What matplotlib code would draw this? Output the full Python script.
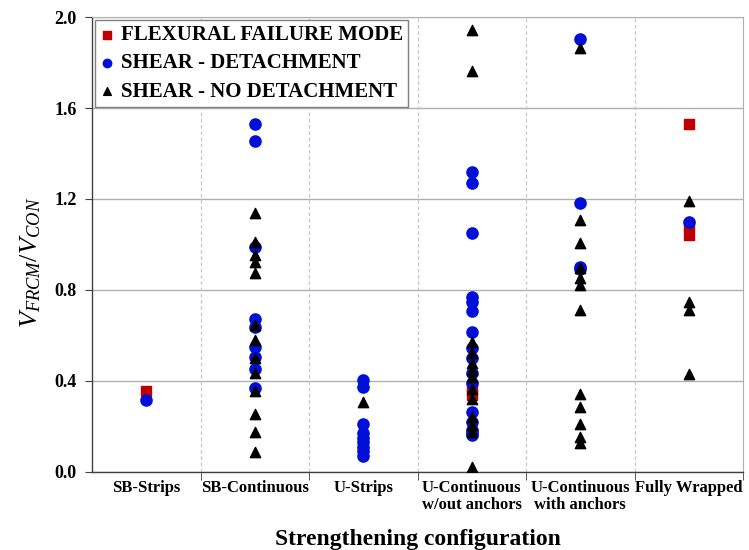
import matplotlib
matplotlib.use("Agg")
import matplotlib.pyplot as plt
import numpy as np

plt.rcParams['font.family'] = ['Liberation Serif', 'DejaVu Serif']
plt.rcParams['mathtext.fontset'] = 'custom'
plt.rcParams['mathtext.it'] = 'Liberation Serif:italic'
plt.rcParams['mathtext.rm'] = 'Liberation Serif'

# Categories
categories = ["SB-Strips", "SB-Continuous", "U-Strips",
              "U-Continuous\nw/out anchors", "U-Continuous\nwith anchors", "Fully Wrapped"]

# Flexural failure mode (category index, value)
flex_cat = [0, 3, 3, 5, 5, 5]
flex_val = [0.357, 0.375, 0.338, 1.530, 1.086, 1.042]

# Shear - detachment
det_cat = [0,
           1, 1, 1, 1, 1, 1, 1, 1, 1,
           2, 2, 2, 2, 2, 2, 2, 2, 2,
           3, 3, 3, 3, 3, 3, 3, 3, 3, 3, 3, 3, 3, 3, 3, 3,
           4, 4, 4, 4,
           5]
det_val = [0.316,
           1.528, 1.456, 0.990, 0.671, 0.636, 0.548, 0.507, 0.451, 0.368,
           0.404, 0.375, 0.211, 0.170, 0.150, 0.130, 0.111, 0.090, 0.068,
           1.317, 1.269, 1.052, 0.768, 0.749, 0.709, 0.614, 0.544, 0.500, 0.434, 0.393,
           0.262, 0.221, 0.185, 0.170, 0.163,
           1.903, 1.181, 0.903, 0.890,
           1.100]

# Shear - no detachment
nodet_cat = [1, 1, 1, 1, 1, 1, 1, 1, 1, 1, 1, 1, 1,
             2,
             3, 3, 3, 3, 3, 3, 3, 3, 3, 3, 3, 3, 3,
             4, 4, 4, 4, 4, 4, 4, 4, 4, 4, 4, 4,
             5, 5, 5, 5]
nodet_val = [1.137, 1.012, 0.954, 0.924, 0.873, 0.646, 0.580, 0.501, 0.435, 0.357, 0.255, 0.177, 0.089,
             0.309,
             1.943, 1.764, 0.573, 0.522, 0.479, 0.448, 0.419, 0.363, 0.319, 0.243, 0.207, 0.177, 0.023,
             1.862, 1.108, 1.008, 0.895, 0.851, 0.822, 0.712, 0.343, 0.287, 0.211, 0.155, 0.129,
             1.191, 0.749, 0.712, 0.431]

fig = plt.figure(figsize=(7.49, 5.5), dpi=100)
ax = fig.add_axes([0.123, 0.142, 0.869, 0.827])

ax.scatter(flex_cat, flex_val, marker='s', s=55, color='#c00000', zorder=3,
           label='FLEXURAL FAILURE MODE')
ax.scatter(det_cat, det_val, marker='o', s=65, color='#0010d8', zorder=4,
           label='SHEAR - DETACHMENT')
ax.scatter(nodet_cat, nodet_val, marker='^', s=55, color='black', zorder=5,
           label='SHEAR - NO DETACHMENT')

ax.set_xlim(-0.5, len(categories) - 0.5)
ax.set_ylim(0, 2.0)
ax.set_yticks(np.arange(0, 2.01, 0.4))
ax.set_yticklabels([f"{v:.1f}" for v in np.arange(0, 2.01, 0.4)],
                   fontsize=13, fontweight='bold')
ax.yaxis.grid(True, color='#b0b0b0', linewidth=1.0)
ax.set_axisbelow(True)

# category separators
bounds = np.arange(0.5, len(categories) - 0.5)
for b in bounds:
    ax.axvline(b, color='#c8c8c8', linestyle=(0, (3, 2)), linewidth=0.9, zorder=1)

ax.set_xticks(range(len(categories)))
ax.set_xticklabels(categories, fontsize=12, fontweight='bold', linespacing=1.1)
ax.tick_params(axis='x', which='major', length=0, pad=6)
ax.set_xticks(np.concatenate([bounds, [5.5]]), minor=True)
ax.tick_params(axis='x', which='minor', length=6, direction='out', color='#404040')
ax.tick_params(axis='y', length=5, direction='out', color='#404040', pad=6)

for side in ['top', 'right']:
    ax.spines[side].set_color('#b0b0b0')
for side in ['left', 'bottom']:
    ax.spines[side].set_color('#404040')
    ax.spines[side].set_linewidth(1.0)

ax.set_ylabel(r'$V_{FRCM}/V_{CON}$', fontsize=19)
ax.yaxis.set_label_coords(-0.076, 0.46)
ax.set_xlabel('Strengthening configuration', fontsize=17, fontweight='bold', labelpad=11)

leg = ax.legend(loc='upper left', bbox_to_anchor=(0.004, 0.994), fancybox=False,
                edgecolor='#808080', framealpha=1.0, borderaxespad=0.0,
                prop={'weight': 'bold', 'size': 15}, markerscale=0.75,
                handlelength=0.7, handletextpad=0.3, labelspacing=0.4,
                borderpad=0.25)
leg.get_frame().set_linewidth(1.0)

fig.savefig("out.png", dpi=100)
